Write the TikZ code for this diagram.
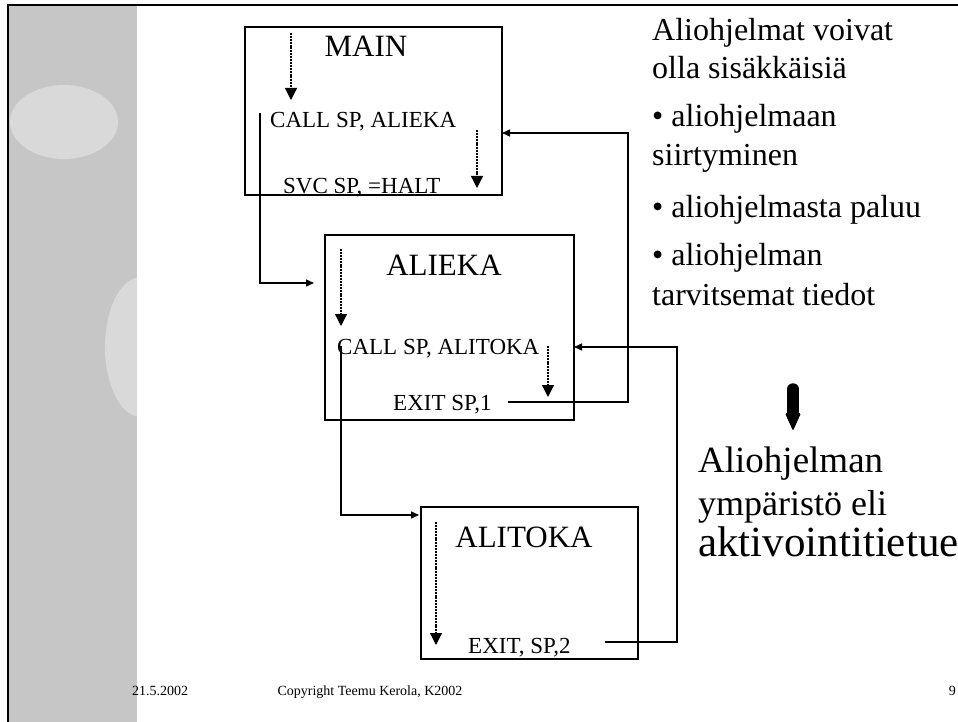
\documentclass[tikz,border=0pt]{standalone}
\usepackage{fontspec}
\setmainfont{Liberation Serif}
\usetikzlibrary{arrows.meta}
\definecolor{stripgray}{RGB}{198,198,198}
\definecolor{blobgray}{RGB}{217,217,217}
\tikzset{
  frame/.style={draw, line width=1.7pt, inner sep=0, anchor=north west},
  title/.style={font=\fontsize{31}{37}\selectfont, anchor=base, inner sep=0},
  instr/.style={font=\fontsize{23}{27}\selectfont, anchor=base west, inner sep=0},
  side/.style={font=\fontsize{32}{38}\selectfont, anchor=base west, inner sep=0},
  flow/.style={line width=1.3pt, dash pattern=on 2pt off 0.9pt, -{Triangle[length=12pt,width=12pt]}},
  call/.style={line width=1.5pt, -{Triangle[length=8pt,width=7pt]}},
  foot/.style={font=\fontsize{14}{16}\selectfont, anchor=base, inner sep=0}
}
\begin{document}
\begin{tikzpicture}[x=1pt,y=-1pt]
\useasboundingbox (0,0) rectangle (958,722);
% left strip
\fill[stripgray] (8,5) rectangle (137,722);
\fill[blobgray] (64,122) ellipse [x radius=54, y radius=37];
\begin{scope}
\clip (8,5) rectangle (137,722);
\fill[blobgray] (141,347) ellipse [x radius=36, y radius=70];
\end{scope}
\draw[line width=1.8pt] (8,722) -- (8,5) -- (958,5);

% program boxes
\node[frame, minimum width=257, minimum height=168] (main) at (244,26) {};
\node[frame, minimum width=249, minimum height=185] (alieka) at (324,234) {};
\node[frame, minimum width=217, minimum height=152] (alitoka) at (420,506) {};

\node[title] (mainT) at (366,57) {MAIN};
\node[instr] (mainCall) at (270,128) {CALL SP, ALIEKA};
\node[instr] (mainHalt) at (283,194) {SVC SP, =HALT};

\node[title] (aliekaT) at (444,275) {ALIEKA};
\node[instr] (aliekaCall) at (337,354) {CALL SP, ALITOKA};
\node[instr] (aliekaExit) at (393,410) {EXIT SP,1};

\node[title] (alitokaT) at (524,547) {ALITOKA};
\node[instr] (alitokaExit) at (468,653) {EXIT, SP,2};

% execution flow inside the boxes
\draw[flow] (291,33) -- (291,100);
\draw[flow] (477,130) -- (477,188);
\draw[flow] (341,249) -- (341,326);
\draw[flow] (548,346) -- (548,397);
\draw[flow] (436,522) -- (436,645);

% calls and returns
\coordinate (mainOut) at (260,113);
\coordinate (aliekaIn) at (314,283);
\coordinate (aliekaOut) at (341,346);
\coordinate (alitokaIn) at (419,515);
\coordinate (exit1) at (508,402);
\coordinate (ret1) at (628,133);
\coordinate (mainBack) at (502,133);
\coordinate (exit2) at (605,642);
\coordinate (ret2) at (677,347);
\coordinate (aliekaBack) at (574,347);
\draw[call] (mainOut) |- (aliekaIn);
\draw[call] (aliekaOut) |- (alitokaIn);
\draw[call] (exit1) -| (ret1) -- (mainBack);
\draw[call] (exit2) -| (ret2) -- (aliekaBack);

% text on the right
\node[side] (s1) at (652,41) {Aliohjelmat voivat};
\node[side] (s2) at (652,79) {olla sisäkkäisiä};
\node[side] (s3) at (652,127) {\textbullet\ aliohjelmaan};
\node[side] (s4) at (652,166) {siirtyminen};
\node[side] (s5) at (652,218) {\textbullet\ aliohjelmasta paluu};
\node[side] (s6) at (652,265) {\textbullet\ aliohjelman};
\node[side] (s7) at (652,305) {tarvitsemat tiedot};

\draw[line width=11.5pt, line cap=round] (793,389) -- (793,416);
\fill[rounded corners=1.5pt] (785,413) -- (801,413) -- (793,431) -- cycle;

\node[side, font=\fontsize{37}{44}\selectfont] (r1) at (698,472) {Aliohjelman};
\node[side, font=\fontsize{36}{44}\selectfont] (r2) at (698,515) {ympäristö eli};
\node[side, font=\fontsize{43}{50}\selectfont] (r3) at (698,556) {aktivointitietue};

% footer
\node[foot, anchor=base west] (date) at (132,695) {21.5.2002};
\node[foot] (copy) at (370,695) {Copyright Teemu Kerola, K2002};
\node[foot, anchor=base east] (page) at (956,695) {9};
\end{tikzpicture}
\end{document}
